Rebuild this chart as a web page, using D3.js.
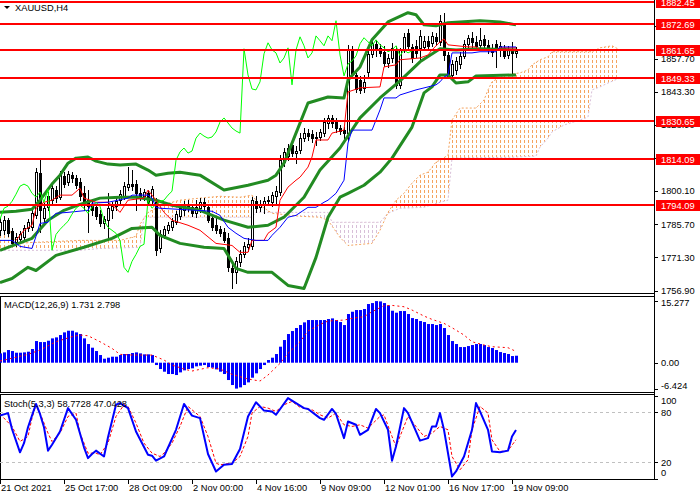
<!DOCTYPE html>
<html>
<head>
<meta charset="utf-8">
<script src="https://cdn.jsdelivr.net/npm/d3@7"></script>
<style>
  body { margin: 0; background: #fff; }
  svg { display: block; }
  text { font-family: "Liberation Sans", Arial, sans-serif; font-size: 9.3px; fill: #000; }
</style>
</head>
<body>
<div id="chart"></div>
<script>
// XAUUSD H4 candles, one value per bar (bar 0 = 21 Oct 2021)
const open = [1783.1,1783.1,1787.5,1782.6,1777.8,1779.2,1780.0,1783.9,1784.4,1789.6,1807.9,1788.3,1793.1,1796.2,1800.6,1797.5,1806.6,1804.0,1807.1,1805.8,
  1804.0,1799.2,1796.2,1794.4,1793.1,1790.1,1786.1,1787.5,1791.8,1793.6,1796.2,1797.9,1801.9,1803.2,1803.2,1799.2,1797.9,1799.2,1796.2,1795.3,
  1775.2,1780.9,1783.1,1784.4,1786.6,1789.2,1791.8,1794.0,1793.1,1790.5,1792.7,1795.3,1793.1,1788.3,1785.3,1783.5,1782.2,1779.6,1766.5,1764.8,
  1769.1,1772.6,1775.7,1776.1,1795.7,1793.1,1794.0,1795.7,1795.3,1797.9,1799.7,1812.8,1815.4,1820.2,1816.7,1818.0,1823.2,1825.4,1825.0,1823.2,
  1823.7,1825.4,1829.8,1832.0,1830.2,1827.6,1826.7,1825.4,1861.6,1850.7,1848.5,1845.1,1852.0,1859.9,1864.3,1862.5,1860.8,1855.9,1858.1,1861.6,
  1846.4,1861.6,1869.1,1862.9,1863.4,1862.5,1862.9,1865.6,1864.7,1867.3,1865.1,1873.0,1859.4,1850.7,1852.9,1855.5,1859.0,1864.3,1866.9,1865.1,
  1863.8,1866.4,1863.8,1862.5,1864.3,1861.6,1862.5,1859.4,1861.6,1860.3];
const high = [1788.3,1789.2,1788.3,1783.9,1781.8,1782.6,1785.3,1787.9,1791.8,1810.1,1814.1,1794.9,1799.7,1803.2,1802.3,1808.8,1808.4,1808.8,1808.4,1807.1,
  1805.8,1802.3,1800.6,1796.2,1794.4,1791.8,1789.2,1799.2,1795.3,1797.5,1800.6,1804.0,1810.6,1809.3,1804.9,1801.4,1801.0,1800.6,1802.3,1797.1,
  1783.1,1784.8,1786.6,1788.3,1791.4,1794.4,1795.7,1796.2,1794.4,1796.2,1797.1,1797.1,1794.0,1789.6,1788.3,1784.8,1783.9,1781.8,1769.1,1771.3,
  1774.4,1777.8,1779.6,1797.5,1797.9,1796.2,1797.5,1797.9,1799.7,1802.3,1815.8,1818.9,1820.6,1821.9,1819.7,1825.4,1827.6,1827.2,1826.7,1825.9,
  1827.2,1832.0,1833.3,1833.3,1832.0,1828.9,1828.0,1863.8,1863.4,1851.6,1850.3,1850.7,1861.6,1866.9,1866.0,1864.3,1863.4,1859.9,1864.7,1863.4,
  1862.5,1869.1,1870.8,1864.3,1866.0,1870.4,1867.7,1867.7,1869.5,1869.1,1876.9,1877.8,1860.8,1857.3,1858.6,1860.8,1866.0,1868.2,1869.5,1867.7,
  1871.2,1868.2,1866.0,1864.3,1866.0,1865.1,1863.8,1863.4,1865.1,1862.9];
const low = [1780.9,1781.3,1780.5,1776.1,1776.1,1777.4,1778.7,1782.6,1783.1,1788.3,1782.2,1785.3,1791.8,1794.0,1795.3,1796.6,1801.9,1802.7,1804.0,1801.4,
  1796.2,1791.8,1782.2,1789.6,1787.9,1784.8,1783.9,1780.0,1788.3,1791.8,1794.9,1796.6,1800.6,1800.6,1791.8,1796.2,1796.2,1794.0,1794.9,1772.2,
  1773.5,1779.6,1781.8,1783.1,1785.7,1787.9,1789.6,1791.4,1789.2,1788.8,1790.9,1791.8,1786.6,1783.1,1781.8,1780.5,1777.8,1765.2,1758.2,1760.0,
  1767.4,1771.3,1773.9,1774.8,1790.9,1791.4,1790.5,1794.0,1793.6,1794.4,1798.4,1811.0,1813.6,1815.4,1812.3,1816.7,1821.9,1822.4,1821.5,1820.2,
  1822.4,1824.1,1827.6,1828.0,1825.9,1825.0,1823.2,1822.4,1849.4,1843.3,1842.9,1843.3,1850.3,1858.6,1859.0,1859.0,1854.6,1854.2,1856.4,1845.1,
  1845.1,1860.8,1861.6,1856.4,1858.6,1857.3,1861.6,1861.6,1863.4,1863.8,1863.8,1857.3,1849.4,1849.4,1851.2,1853.8,1858.1,1862.5,1862.9,1861.6,
  1861.6,1862.5,1860.3,1859.0,1854.2,1859.0,1858.1,1858.1,1851.6,1858.6];
const close = [1786.6,1787.5,1781.8,1777.4,1780.0,1781.3,1783.9,1786.6,1790.5,1808.4,1791.8,1792.7,1797.9,1801.4,1797.1,1807.1,1803.2,1807.5,1805.8,1802.7,
  1797.9,1795.3,1793.6,1791.8,1789.2,1786.1,1787.9,1792.7,1793.6,1795.7,1798.8,1802.3,1803.2,1802.3,1799.2,1797.5,1799.7,1795.3,1801.0,1774.4,
  1781.3,1783.5,1785.3,1787.0,1790.1,1792.7,1794.0,1792.7,1790.5,1793.1,1795.3,1793.6,1787.5,1784.4,1783.1,1781.8,1778.7,1767.0,1764.8,1769.6,
  1772.6,1776.1,1777.0,1796.2,1792.7,1794.4,1795.7,1796.2,1798.4,1800.1,1813.6,1817.2,1818.9,1816.7,1817.6,1823.2,1825.4,1824.1,1823.2,1823.7,
  1825.9,1830.2,1832.0,1829.8,1827.6,1826.3,1825.4,1862.1,1850.7,1844.6,1844.2,1847.7,1859.9,1864.7,1861.6,1860.3,1855.9,1858.1,1862.5,1846.4,
  1861.6,1867.3,1863.4,1858.1,1860.3,1867.7,1865.6,1863.4,1867.7,1865.6,1874.3,1859.4,1850.3,1855.5,1856.8,1859.0,1864.3,1866.9,1865.1,1863.4,
  1866.0,1863.8,1862.5,1860.8,1861.6,1863.4,1859.0,1861.6,1860.3,1861.2];

// Bollinger bands, [bar, price]
const bbUpper = [[0,1790.9],[4,1791.4],[8,1792.3],[10,1796.2],[13,1803.2],[15,1807.1],[17,1812.3],[19,1814.5],[22,1815.0],[24,1813.2],
  [27,1811.9],[30,1811.5],[34,1811.9],[37,1809.3],[39,1807.1],[42,1807.9],[45,1808.4],[50,1807.1],[56,1800.6],[62,1802.7],[67,1804.9],
  [69,1807.1],[71,1812.3],[74,1825.4],[77,1838.5],[82,1841.1],[86,1840.7],[87,1848.5],[90,1854.2],[93,1866.0],[97,1873.8],[102,1877.8],
  [104,1876.9],[106,1872.5],[109,1872.1],[112,1873.4],[120,1874.3],[125,1873.8],[129,1872.5]];
const bbMiddle = [[0,1774.4],[4,1777.0],[8,1779.6],[12,1787.5],[16,1791.8],[20,1794.4],[25,1797.1],[30,1797.5],[34,1797.5],[39,1796.2],
  [43,1794.0],[50,1791.8],[56,1787.5],[62,1784.4],[67,1785.3],[71,1788.8],[76,1797.5],[80,1809.3],[85,1818.9],[90,1832.0],[95,1840.7],
  [100,1848.1],[105,1856.4],[110,1862.1],[114,1861.6],[120,1862.1],[129,1861.6]];
const bbLower = [[0,1760.4],[3,1762.1],[7,1767.0],[9,1765.6],[14,1772.2],[21,1775.7],[28,1779.6],[33,1783.9],[38,1784.4],[40,1780.9],
  [45,1777.4],[51,1775.7],[56,1775.2],[59,1766.5],[62,1764.8],[68,1764.8],[72,1759.1],[76,1757.8],[79,1771.3],[82,1788.8],[85,1797.5],
  [87,1799.2],[91,1802.7],[95,1808.4],[98,1814.5],[103,1828.0],[106,1842.9],[108,1845.5],[110,1850.7],[112,1850.7],[114,1847.2],
  [117,1847.7],[119,1850.3],[129,1850.7]];

// Ichimoku lines, [bar, price]
const tenkan = [[4,1778.7],[6,1783.1],[8,1785.3],[9,1792.7],[11,1795.3],[13,1796.2],[15,1798.4],[18,1798.4],[20,1801.4],[21,1797.1],
  [24,1795.3],[27,1795.3],[29,1792.7],[30,1790.9],[32,1796.2],[36,1797.1],[37,1800.6],[39,1796.2],[41,1790.9],[43,1787.5],[47,1785.3],
  [50,1783.1],[54,1777.4],[58,1776.5],[60,1773.5],[62,1773.5],[63,1778.7],[66,1778.7],[67,1781.8],[69,1784.4],[70,1796.2],[72,1801.9],
  [74,1804.9],[75,1806.2],[77,1810.6],[78,1815.0],[79,1822.4],[82,1822.4],[83,1825.4],[86,1826.7],[87,1843.3],[90,1845.1],[95,1845.5],
  [96,1854.2],[99,1855.1],[100,1857.3],[105,1858.1],[107,1859.4],[108,1861.6],[110,1865.1],[111,1866.4],[112,1863.8],[117,1862.9],
  [119,1862.9],[120,1861.6],[124,1861.6],[125,1862.5],[129,1862.5]];
const kijun = [[0,1778.7],[3,1778.7],[5,1776.1],[8,1775.2],[9,1780.5],[10,1786.1],[12,1786.6],[13,1788.8],[14,1790.5],[17,1790.9],
  [22,1791.8],[23,1794.9],[27,1795.3],[32,1797.1],[33,1798.4],[37,1798.4],[38,1797.1],[39,1793.1],[40,1792.7],[53,1791.4],[55,1789.6],
  [57,1784.4],[59,1781.8],[61,1779.6],[64,1778.7],[67,1778.7],[68,1780.9],[70,1784.4],[72,1788.8],[74,1789.6],[77,1793.1],[79,1793.1],
  [81,1795.3],[82,1796.2],[84,1799.2],[86,1804.9],[87,1821.1],[88,1826.7],[93,1826.7],[94,1831.1],[95,1835.5],[96,1840.7],[99,1840.7],
  [100,1842.0],[104,1844.2],[107,1845.5],[109,1846.4],[110,1847.7],[111,1849.8],[112,1850.7],[113,1860.3],[118,1860.3],[120,1860.8],
  [124,1860.8],[125,1862.9],[129,1862.9]];
const chikouShift = 26;
const spanA = [[0,1784.4],[2,1784.4],[4,1777.4],[8,1777.8],[20,1778.7],[30,1778.7],[32,1779.6],[34,1780.5],[35,1785.7],[37,1790.9],
  [39,1792.7],[41,1794.4],[45,1796.2],[50,1797.1],[55,1797.9],[60,1797.5],[63,1798.4],[65,1794.0],[68,1790.5],[75,1789.2],[80,1788.8],
  [82,1787.5],[85,1780.0],[87,1776.5],[93,1777.4],[95,1783.1],[97,1790.9],[99,1796.2],[101,1799.2],[103,1803.6],[105,1807.1],[107,1808.4],
  [109,1812.8],[110,1813.6],[112,1815.8],[113,1831.1],[115,1836.3],[119,1836.3],[121,1839.8],[122,1844.2],[123,1847.7],[126,1850.7],
  [130,1851.6],[132,1852.9],[133,1855.1],[135,1857.3],[137,1858.6],[138,1860.8],[148,1860.8],[150,1862.5],[153,1863.4],[155,1861.6]];
const spanB = [[0,1774.4],[20,1774.4],[25,1775.2],[35,1775.7],[36,1788.8],[63,1788.8],[64,1790.9],[82,1790.9],[83,1786.6],[95,1786.6],
  [97,1790.5],[100,1792.7],[106,1793.1],[110,1795.3],[112,1796.2],[113,1814.5],[128,1814.9],[134,1815.4],[135,1819.3],[137,1823.2],
  [138,1825.9],[141,1828.9],[145,1831.1],[147,1832.4],[148,1844.2],[150,1845.5],[152,1847.2],[155,1849.4]];

// horizontal levels and axis ticks
const levels = [1882.45, 1872.69, 1861.65, 1849.33, 1830.65, 1814.09, 1794.09];
const priceTicks = [1756.90, 1771.30, 1785.70, 1800.10, 1814.50, 1828.90, 1843.30, 1857.70, 1872.10];
const timeBars = [0, 16, 32, 48, 64, 80, 96, 112, 128];
const timeLabels = ["21 Oct 2021", "25 Oct 17:00", "28 Oct 09:00", "2 Nov 00:00", "4 Nov 16:00",
  "9 Nov 09:00", "12 Nov 01:00", "16 Nov 17:00", "19 Nov 09:00"];

// MACD(12,26,9) histogram per bar, signal line [bar, value]
const macd = [2.31,2.56,3.14,2.89,2.48,2.48,2.56,2.73,3.39,5.37,5.12,5.12,5.45,6.03,6.28,6.86,7.52,7.93,7.93,7.52,
  7.11,6.03,4.63,3.72,2.89,1.90,0.99,1.24,1.49,1.49,1.90,2.15,2.15,2.40,2.56,2.31,2.07,2.07,1.90,-0.58,
  -1.57,-2.23,-2.81,-2.81,-3.06,-2.40,-1.90,-1.57,-1.40,-0.91,-0.74,-0.58,-1.07,-1.24,-1.65,-2.23,-2.81,-4.30,-5.54,-6.42,
  -6.12,-5.54,-4.88,-3.72,-2.64,-1.57,-0.58,0.66,1.24,2.15,3.97,5.62,7.11,7.85,8.60,9.34,10.00,10.58,10.58,10.58,
  10.58,10.58,10.83,10.99,10.58,10.08,9.34,12.07,12.64,13.06,13.06,13.31,14.55,14.79,15.277,15.20,14.79,14.21,12.89,12.40,
  12.81,12.81,12.07,11.07,10.83,10.33,10.08,9.59,9.59,9.34,9.59,8.60,6.86,5.37,4.63,3.88,3.88,4.13,4.38,4.63,
  4.63,4.38,3.88,3.64,3.14,2.64,2.40,2.15,1.65,1.731];
const macdSignal = [[0,0.41],[7,2.07],[10,3.14],[14,5.2],[18,6.45],[20,6.86],[22,6.69],[25,5.2],[28,3.55],[30,2.07],[33,1.9],[38,1.9],
  [41,0.66],[43,-0.58],[46,-1.57],[48,-2.07],[52,-1.24],[55,-1.57],[58,-2.89],[62,-4.05],[65,-4.55],[67,-3.06],[70,-0.17],[72,2.31],
  [75,5.2],[77,7.85],[80,9.5],[82,10.33],[86,10.58],[88,11.0],[91,11.4],[93,12.64],[96,14.13],[98,14.21],[101,13.88],[103,13.06],
  [106,11.57],[108,10.74],[111,9.75],[113,8.68],[116,6.86],[118,5.2],[121,4.38],[123,3.97],[127,3.72],[129,2.798]];
const macdTicks = [15.277, 0, -6.424];
const macdTickLabels = ["15.277", "0.00", "-6.424"];

// Stochastic(5,3,3) %K and %D, [bar, value]
const stochK = [[0,76],[2,79],[3,60],[5,32],[6,43],[7,62],[9,90],[10,78],[11,62],[12,34],[13,41],[15,57],[17,85],[19,71],[21,38],
  [22,25],[23,30],[24,34],[26,27],[27,50],[29,89],[30,91],[32,85],[34,57],[37,29],[38,28],[39,22],[41,27],[44,59],[46,90],[48,76],
  [50,73],[52,30],[54,9],[56,17],[58,18],[60,36],[62,75],[64,92],[66,82],[68,81],[69,77],[72,97],[74,91],[76,85],[77,84],[80,73],
  [81,71],[83,84],[84,78],[86,49],[87,69],[89,65],[90,53],[92,59],[94,84],[95,79],[97,59],[98,22],[99,39],[101,85],[102,79],[104,57],
  [105,46],[107,49],[108,63],[109,63],[110,79],[111,59],[113,3],[114,9],[116,27],[118,59],[119,91],[120,81],[122,59],[123,33],
  [125,32],[127,34],[128,51],[129,58.7728]];
const stochD = [[0,78],[3,63],[5,45],[7,51],[8,73],[9,89],[10,79],[12,55],[13,45],[15,55],[17,75],[19,79],[20,55],[22,31],[24,31],
  [25,29],[27,43],[29,75],[31,89],[32,87],[34,67],[36,43],[38,31],[40,27],[41,31],[43,43],[45,63],[47,87],[48,83],[50,75],[52,51],
  [54,19],[55,17],[58,19],[60,27],[62,51],[63,79],[65,87],[67,85],[69,81],[71,89],[73,93],[75,86],[78,83],[80,77],[82,73],[84,79],
  [86,65],[88,63],[90,65],[92,61],[95,75],[96,77],[98,51],[99,39],[101,63],[102,75],[104,63],[106,51],[108,55],[110,63],[112,59],
  [113,27],[115,11],[117,23],[118,59],[120,87],[122,79],[123,47],[125,33],[127,34],[129,47.0428]];
const stochTicks = [100, 80, 20, 0];
const stochLevels = [80, 20];

const W = 700, H = 500, plotR = 654;
const mainTop = 0, mainBot = 293;
const macdTop = 296, macdBot = 392;
const stTop = 394, stBot = 479;

const svg = d3.select('#chart').append('svg').attr('width', W).attr('height', H);
const defs = svg.append('defs');

const x = d3.scaleLinear().domain([0, 163.5]).range([0, plotR]);
const y = d3.scaleLinear().domain([1756.9, 1882.45]).range([290.5, 2]);
const yM = d3.scaleLinear().domain([-6.424, 15.277]).range([388.6, 301.1]);
const yS = d3.scaleLinear().domain([0, 100]).range([stBot, 395.6]);

const px = v => Math.round(x(v)) + 0.5;
const linePrice = d3.line().x(d => x(d[0])).y(d => y(d[1]));

// clip areas for each panel
defs.append('clipPath').attr('id', 'clipMain').append('rect')
  .attr('x', 0).attr('y', mainTop).attr('width', plotR).attr('height', mainBot - mainTop);
defs.append('clipPath').attr('id', 'clipMacd').append('rect')
  .attr('x', 0).attr('y', macdTop).attr('width', plotR).attr('height', macdBot - macdTop);
defs.append('clipPath').attr('id', 'clipSt').append('rect')
  .attr('x', 0).attr('y', stTop).attr('width', plotR).attr('height', stBot - stTop);

// hatch patterns for the cloud
function hatch(id, color) {
  const p = defs.append('pattern').attr('id', id).attr('patternUnits', 'userSpaceOnUse')
    .attr('width', 4).attr('height', 5);
  p.append('rect').attr('x', 0).attr('y', 0).attr('width', 1).attr('height', 3).attr('fill', color);
}
hatch('hatchA', '#F4A460');
hatch('hatchB', '#D8BFD8');

// clip: above span B -> orange cloud, below span B -> thistle cloud
const bFirst = spanB[0][0], bLast = spanB[spanB.length - 1][0];
const bPath = linePrice(spanB);
defs.append('clipPath').attr('id', 'aboveB').append('path')
  .attr('d', `M${x(bFirst)},${mainTop}L${bPath.slice(1)}L${x(bLast)},${mainTop}Z`);
defs.append('clipPath').attr('id', 'belowB').append('path')
  .attr('d', `M${x(bFirst)},${mainBot}L${bPath.slice(1)}L${x(bLast)},${mainBot}Z`);

const main = svg.append('g').attr('clip-path', 'url(#clipMain)');

// cloud
const cloudD = linePrice(spanA.concat(spanB.slice().reverse())) + 'Z';
main.append('g').attr('clip-path', 'url(#aboveB)')
  .append('path').attr('d', cloudD).attr('fill', 'url(#hatchA)');
main.append('g').attr('clip-path', 'url(#belowB)')
  .append('path').attr('d', cloudD).attr('fill', 'url(#hatchB)');
main.append('path').attr('d', linePrice(spanB)).attr('fill', 'none')
  .attr('stroke', '#D8BFD8').attr('stroke-dasharray', '2,2');
main.append('path').attr('d', linePrice(spanA)).attr('fill', 'none')
  .attr('stroke', '#F4A460').attr('stroke-dasharray', '2,2');

// candles
const bars = d3.range(close.length);
const cg = main.append('g');
cg.selectAll('line').data(bars).join('line')
  .attr('x1', i => px(i)).attr('x2', i => px(i))
  .attr('y1', i => Math.round(y(high[i]))).attr('y2', i => Math.round(y(low[i])) + 1)
  .attr('stroke', '#000');
cg.selectAll('rect').data(bars).join('rect')
  .attr('x', i => px(i) - 1)
  .attr('y', i => Math.round(y(Math.max(open[i], close[i]))) + 0.5)
  .attr('width', 2)
  .attr('height', i => Math.max(0, Math.round(y(Math.min(open[i], close[i]))) - Math.round(y(Math.max(open[i], close[i])))))
  .attr('fill', i => close[i] >= open[i] ? '#fff' : '#000')
  .attr('stroke', '#000');

// indicators
function drawLine(g, data, yScale, color, width, dash) {
  const gen = d3.line().x(d => x(d[0])).y(d => yScale(d[1]));
  const p = g.append('path').attr('d', gen(data)).attr('fill', 'none')
    .attr('stroke', color).attr('stroke-width', width).attr('stroke-linejoin', 'round');
  if (dash) p.attr('stroke-dasharray', dash);
  return p;
}
[bbUpper, bbMiddle, bbLower].forEach(b => drawLine(main, b, y, '#228B22', 3));
drawLine(main, tenkan, y, '#FF0000', 1);
drawLine(main, kijun, y, '#0000FF', 1);
drawLine(main, close.map((c, i) => [i - chikouShift, c]), y, '#00FF00', 1);

// horizontal levels
main.selectAll('line.level').data(levels).join('line').attr('class', 'level')
  .attr('x1', 0).attr('x2', plotR)
  .attr('y1', d => Math.round(y(d))).attr('y2', d => Math.round(y(d)))
  .attr('stroke', '#FF0000').attr('stroke-width', 2);

// price axis
const ax = svg.append('g');
ax.append('line').attr('x1', plotR + 0.5).attr('x2', plotR + 0.5).attr('y1', 0).attr('y2', stBot)
  .attr('stroke', '#000');
ax.selectAll('line.pt').data(priceTicks).join('line').attr('class', 'pt')
  .attr('x1', plotR).attr('x2', plotR + 4)
  .attr('y1', d => Math.round(y(d)) + 0.5).attr('y2', d => Math.round(y(d)) + 0.5).attr('stroke', '#000');
ax.selectAll('text.pt').data(priceTicks).join('text').attr('class', 'pt')
  .attr('x', 661).attr('y', d => y(d)).attr('dy', '0.35em').text(d => d.toFixed(2));

const lv = svg.append('g').selectAll('g').data(levels).join('g');
lv.append('rect').attr('x', 656).attr('y', d => Math.round(y(d)) - 5).attr('width', 44).attr('height', 11)
  .attr('fill', '#FF0000');
lv.append('text').attr('x', 661).attr('y', d => Math.round(y(d))).attr('dy', '0.38em')
  .style('fill', '#fff').text(d => d.toFixed(2));

// panel borders
svg.append('line').attr('x1', 0).attr('x2', plotR).attr('y1', mainBot + 0.5).attr('y2', mainBot + 0.5).attr('stroke', '#000');
[[macdTop, macdBot], [stTop, stBot]].forEach(([t, b]) => {
  svg.append('rect').attr('x', 0.5).attr('y', t + 0.5).attr('width', plotR).attr('height', b - t)
    .attr('fill', 'none').attr('stroke', '#000');
});

// MACD
const mg = svg.append('g').attr('clip-path', 'url(#clipMacd)');
mg.selectAll('rect').data(bars).join('rect')
  .attr('x', i => Math.round(x(i)) - 1).attr('width', 3)
  .attr('y', i => Math.min(yM(macd[i]), yM(0)))
  .attr('height', i => Math.abs(yM(macd[i]) - yM(0)))
  .attr('fill', '#0000FF');
drawLine(mg, macdSignal, yM, '#FF0000', 1, '2,3');
svg.append('text').attr('x', 4).attr('y', 305).attr('dy', '0.35em').text('MACD(12,26,9) 1.731 2.798');
macdTicks.forEach((t, k) => {
  const ty = yM(t);
  svg.append('line').attr('x1', plotR).attr('x2', plotR + 4).attr('y1', Math.round(ty) + 0.5).attr('y2', Math.round(ty) + 0.5)
    .attr('stroke', '#000');
  svg.append('text').attr('x', 661).attr('y', Math.min(Math.max(ty, macdTop + 7), macdBot - 6)).attr('dy', '0.35em')
    .text(macdTickLabels[k]);
});

// Stochastic
const sg = svg.append('g').attr('clip-path', 'url(#clipSt)');
stochLevels.forEach(l => {
  sg.append('line').attr('x1', 0).attr('x2', plotR).attr('y1', Math.round(yS(l)) + 0.5).attr('y2', Math.round(yS(l)) + 0.5)
    .attr('stroke', '#C0C0C0').attr('stroke-dasharray', '3,3');
});
drawLine(sg, stochD, yS, '#FF0000', 1, '3,2');
drawLine(sg, stochK, yS, '#0000FF', 2);
svg.append('text').attr('x', 4).attr('y', 404).attr('dy', '0.35em').text('Stoch(5,3,3) 58.7728 47.0428');
stochTicks.forEach(t => {
  const ty = yS(t);
  svg.append('line').attr('x1', plotR).attr('x2', plotR + 4).attr('y1', Math.round(ty) + 0.5).attr('y2', Math.round(ty) + 0.5)
    .attr('stroke', '#000');
  svg.append('text').attr('x', 661).attr('y', Math.min(Math.max(ty, stTop + 7), stBot - 6)).attr('dy', '0.35em').text(t);
});

// time axis
const tg = svg.append('g');
tg.selectAll('line').data(timeBars).join('line')
  .attr('x1', d => px(d)).attr('x2', d => px(d)).attr('y1', stBot).attr('y2', stBot + 5).attr('stroke', '#000');
tg.selectAll('text').data(timeBars).join('text')
  .attr('x', d => x(d) + 1).attr('y', 488).attr('dy', '0.35em').text((d, k) => timeLabels[k]);

// title
svg.append('path').attr('d', 'M4,6L10,6L7,9Z').attr('fill', '#000');
svg.append('text').attr('x', 15).attr('y', 8).attr('dy', '0.35em').text('XAUUSD,H4');
</script>
</body>
</html>
